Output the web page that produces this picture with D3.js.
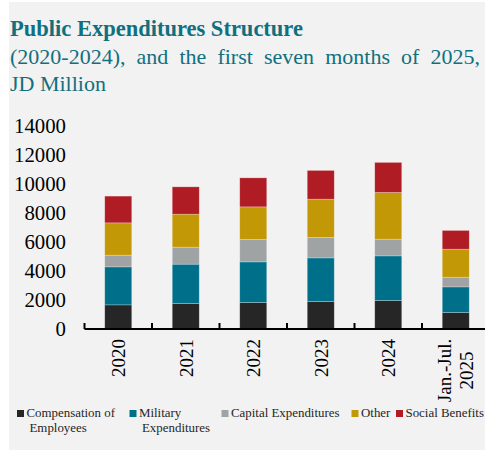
<!DOCTYPE html>
<html>
<head>
<meta charset="utf-8">
<script src="https://cdn.jsdelivr.net/npm/d3@7"></script>
<style>
  html, body { margin: 0; padding: 0; background: #ffffff; }
  svg { display: block; }
  svg text { font-family: "Liberation Serif", "Tinos", "Times New Roman", "DejaVu Serif", serif; }
</style>
</head>
<body>
<svg id="chart" width="485" height="452"></svg>
<script>
// Public expenditures by type, JD million
const categories = ["2020", "2021", "2022", "2023", "2024", "Jan.-Jul.\n2025"];
const seriesNames = ["Compensation of Employees", "Military Expenditures", "Capital Expenditures", "Other", "Social Benefits"];
const compensation = [1660, 1755, 1824, 1893, 1961, 1136];
const military     = [2615, 2705, 2794, 3000, 3070, 1761];
const capital      = [805, 1170, 1542, 1404, 1149, 668];
const other        = [2223, 2271, 2243, 2636, 3214, 1927];
const social       = [1838, 1879, 1996, 1975, 2065, 1287];
const yTicks = [0, 2000, 4000, 6000, 8000, 10000, 12000, 14000];
const colors = ["#262626", "#00708a", "#a0a3a4", "#c29807", "#b01c24"];
const legendLines = [["Compensation of", "Employees"], ["Military", "Expenditures"], ["Capital Expenditures"], ["Other"], ["Social Benefits"]];

const teal = "#10707f";

const rows = categories.map((c, i) => ({
  cat: c,
  [seriesNames[0]]: compensation[i],
  [seriesNames[1]]: military[i],
  [seriesNames[2]]: capital[i],
  [seriesNames[3]]: other[i],
  [seriesNames[4]]: social[i]
}));
const stacked = d3.stack().keys(seriesNames)(rows);

const svg = d3.select("#chart");

// panel background
svg.append("rect").attr("x", 9).attr("y", 2).attr("width", 476).attr("height", 448).attr("fill", "#f2f2f2");

// titles
svg.append("text").attr("x", 10).attr("y", 36)
  .attr("font-size", 22.5).attr("font-weight", "bold").attr("fill", teal)
  .text("Public Expenditures Structure");

const sub = svg.append("text").attr("x", 10).attr("y", 64)
  .attr("font-size", 22).attr("fill", teal)
  .text("(2020-2024), and the first seven months of 2025,");
// justify the subtitle line across the panel
{
  const txt = sub.text();
  const w = sub.node().getComputedTextLength();
  const gaps = txt.split(" ").length - 1;
  sub.attr("word-spacing", Math.max(0, (470 - w) / gaps));
}
svg.append("text").attr("x", 10).attr("y", 91)
  .attr("font-size", 22).attr("fill", teal)
  .text("JD Million");

// scales
const y = d3.scaleLinear().domain([0, 14000]).range([329, 125.5]);
const x = d3.scaleBand().domain(categories).range([84.5, 489.5]).paddingInner(0.6).paddingOuter(0.3);

// y tick labels
const yAxis = svg.append("g").attr("transform", "translate(66,0)")
  .call(d3.axisLeft(y).tickValues(yTicks).tickSize(0).tickPadding(0).tickFormat(d3.format("d")));
yAxis.select(".domain").remove();
yAxis.attr("font-family", null).attr("font-size", null);
yAxis.selectAll("text").attr("font-size", 20.8).attr("fill", "#000");

// bars
svg.append("g").selectAll("g").data(stacked).join("g")
  .attr("fill", (d, i) => colors[i])
  .selectAll("rect").data(d => d).join("rect")
  .attr("x", d => x(d.data.cat))
  .attr("width", x.bandwidth())
  .attr("y", d => y(d[1]))
  .attr("height", d => y(d[0]) - y(d[1]))
  .attr("stroke", "#ffffff").attr("stroke-opacity", 0.35).attr("stroke-width", 0.7);

// x axis line with boundary ticks
const step = x.step();
const firstEdge = x(categories[0]) - x.paddingOuter() * step;
const axisG = svg.append("g");
axisG.append("line").attr("x1", firstEdge).attr("x2", 485).attr("y1", 329).attr("y2", 329)
  .attr("stroke", "#000").attr("stroke-width", 2);
axisG.selectAll("line.tk").data(d3.range(categories.length)).join("line").attr("class", "tk")
  .attr("x1", i => firstEdge + i * step).attr("x2", i => firstEdge + i * step)
  .attr("y1", 329).attr("y2", 323).attr("stroke", "#000").attr("stroke-width", 2);

// x labels, rotated
const labG = svg.append("g");
categories.forEach(c => {
  const lines = c.split("\n");
  const cx = x(c) + x.bandwidth() / 2;
  const lh = 22;
  const t = labG.append("text")
    .attr("font-size", 19).attr("fill", "#000");
  if (lines.length === 1) {
    t.attr("transform", `translate(${cx + 7},339) rotate(-90)`).attr("text-anchor", "end").text(c);
  } else {
    // multi-line labels: lines centred on each other
    t.attr("transform", `translate(${cx - 1},370.5) rotate(-90)`).attr("text-anchor", "middle");
    lines.forEach((ln, k) => {
      t.append("tspan").attr("x", 0).attr("y", (k - (lines.length - 1) / 2) * lh + 7).text(ln);
    });
  }
});

// legend
const legendX = [17, 129.5, 221.5, 351.5, 396];
const lg = svg.append("g");
legendLines.forEach((lines, i) => {
  lg.append("rect").attr("x", legendX[i]).attr("y", 410).attr("width", 7).attr("height", 7).attr("fill", colors[i]);
  const t = lg.append("text").attr("font-size", 12.9).attr("fill", "#262626");
  lines.forEach((ln, k) => {
    t.append("tspan").attr("x", legendX[i] + 9.5 + (k > 0 ? 3 : 0)).attr("y", 417 + k * 15).text(ln);
  });
});
</script>
</body>
</html>
